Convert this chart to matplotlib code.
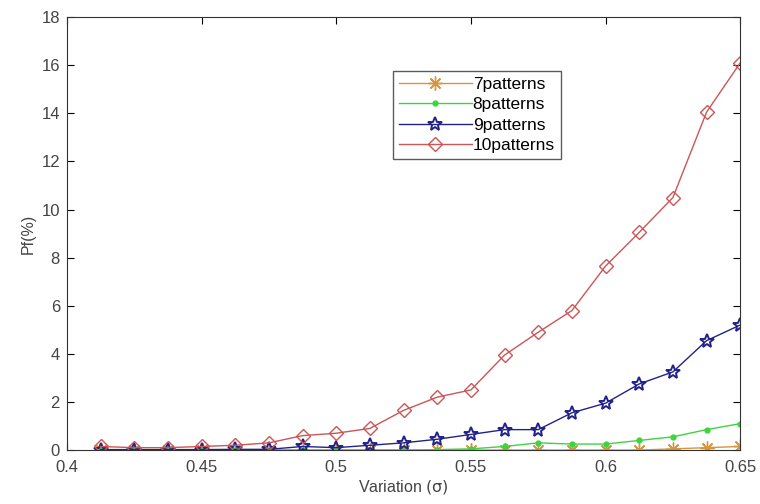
import numpy as np
import matplotlib
matplotlib.use("Agg")
import matplotlib.pyplot as plt

plt.rcParams['font.family'] = ['Liberation Sans', 'DejaVu Sans']

variation = [0.4125, 0.425, 0.4375, 0.45, 0.4625, 0.475, 0.4875, 0.5, 0.5125, 0.525,
             0.5375, 0.55, 0.5625, 0.575, 0.5875, 0.6, 0.6125, 0.625, 0.6375, 0.65]

p7 = [0, 0, 0, 0, 0, 0, 0, 0, 0, 0,
      0, 0, 0, 0, 0, 0, 0, 0.05, 0.1, 0.15]
p8 = [0, 0, 0, 0, 0, 0, 0, 0, 0, 0,
      0.02, 0.05, 0.15, 0.3, 0.25, 0.25, 0.4, 0.55, 0.85, 1.1]
p9 = [0.02, 0.02, 0.02, 0.02, 0.03, 0.03, 0.15, 0.1, 0.2, 0.3,
      0.45, 0.65, 0.85, 0.85, 1.55, 1.95, 2.75, 3.25, 4.55, 5.2]
p10 = [0.15, 0.1, 0.1, 0.15, 0.2, 0.3, 0.6, 0.7, 0.9, 1.65,
       2.2, 2.5, 3.95, 4.9, 5.8, 7.65, 9.05, 10.5, 14.05, 16.1]

fig = plt.figure(figsize=(7.6, 5.04), dpi=100)
ax = fig.add_axes([0.088, 0.107, 0.886, 0.859])

ax.plot(variation, p7, color='#d8963c', marker=(8, 2, 0), markersize=10, lw=1,
        mew=1, label='7patterns')
ax.plot(variation, p8, color='#3fd43f', marker='.', markersize=7, lw=1,
        label='8patterns')
ax.plot(variation, p9, color='#22228a', marker='*', markersize=10, lw=1,
        mfc='none', mew=1.4, label='9patterns')
ax.plot(variation, p10, color='#cc5555', marker='D', markersize=7.5, lw=1,
        mfc='none', label='10patterns')

ax.set_xlim(0.4, 0.65)
ax.set_ylim(0, 18)
ax.set_xticks([0.4, 0.45, 0.5, 0.55, 0.6, 0.65])
ax.set_xticklabels(['0.4', '0.45', '0.5', '0.55', '0.6', '0.65'])
ax.set_yticks(range(0, 19, 2))
ax.tick_params(direction='in', top=True, right=True, labelsize=12,
               labelcolor='#444444', length=5, pad=5)
ax.tick_params(axis='x', pad=7)
for s in ax.spines.values():
    s.set_color('#333333')

ax.set_xlabel(r'Variation $\left(\mathrm{\sigma}\right)$', fontsize=11.5,
              color='#444444', labelpad=2)
ax.set_ylabel('Pf(%)', fontsize=11.5, color='#444444', labelpad=4)

leg = ax.legend(loc='upper left', bbox_to_anchor=(0.484, 0.876), fontsize=12.5,
                frameon=True, fancybox=False, handlelength=4.2, borderpad=0.35,
                labelspacing=0.3, handletextpad=0.05, borderaxespad=0)
leg.get_frame().set_edgecolor('#333333')
leg.get_frame().set_linewidth(1)

fig.savefig('out.png', dpi=100)
